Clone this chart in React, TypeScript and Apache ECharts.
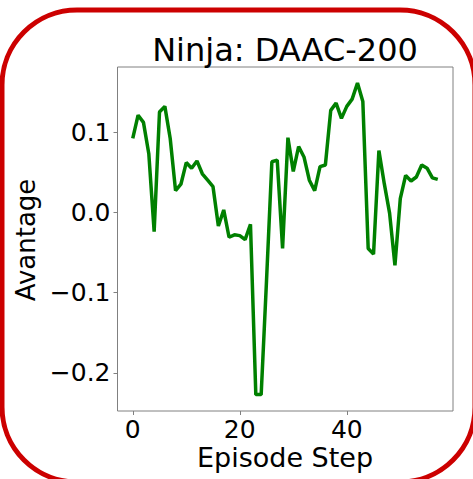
import React, { useEffect, useRef } from "react";
import * as echarts from "echarts";

const steps: number[] = Array.from({ length: 58 }, (_, i) => i);
const advantage: number[] = [
  0.092, 0.121, 0.112, 0.073, -0.024, 0.125, 0.132, 0.092, 0.027, 0.035,
  0.062, 0.055, 0.064, 0.048, 0.040, 0.032, -0.017, 0.003, -0.031, -0.028,
  -0.029, -0.034, -0.015, -0.227, -0.227, -0.085, 0.063, 0.065, -0.045, 0.093,
  0.051, 0.082, 0.069, 0.040, 0.027, 0.057, 0.059, 0.127, 0.136, 0.117,
  0.132, 0.141, 0.161, 0.138, -0.045, -0.052, 0.077, 0.036, -0.001, -0.066,
  0.017, 0.046, 0.039, 0.044, 0.059, 0.055, 0.043, 0.041,
];
const xTicks: number[] = [0, 20, 40];
const yTicks: number[] = [-0.2, -0.1, 0.0, 0.1];
const titleText = "Ninja: DAAC-200";
const xName = "Episode Step";
const yName = "Avantage";

const FONT = "DejaVu Sans";

export default function App() {
  const ref = useRef<HTMLDivElement>(null);
  useEffect(() => {
    if (!ref.current) return;
    const chart = echarts.init(ref.current, null, { renderer: "svg" });
    const fmt = (v: number) =>
      v < -1e-9 ? "\u2212" + Math.abs(v).toFixed(1) : Math.abs(v).toFixed(1);
    chart.setOption({
      animation: false,
      backgroundColor: "#ffffff",
      grid: {
        left: 117.5,
        right: 20,
        top: 67,
        bottom: 68,
        show: true,
        borderColor: "#808080",
        borderWidth: 1,
        backgroundColor: "transparent",
      },
      xAxis: {
        type: "value",
        position: "bottom",
        min: -2.85,
        max: 59.85,
        axisLine: { show: false, onZero: false },
        splitLine: { show: false },
        axisTick: {
          show: true,
          inside: false,
          length: 4,
          customValues: xTicks,
          lineStyle: { color: "#808080" },
        },
        axisLabel: {
          customValues: xTicks,
          margin: 6,
          fontFamily: FONT,
          fontSize: 25,
          color: "#000000",
          formatter: (v: number) => String(Math.round(v)),
        },
      },
      yAxis: {
        type: "value",
        position: "left",
        min: -0.2474,
        max: 0.181,
        axisLine: { show: false, onZero: false },
        splitLine: { show: false },
        axisTick: {
          show: true,
          inside: false,
          length: 4,
          customValues: yTicks,
          lineStyle: { color: "#808080" },
        },
        axisLabel: {
          customValues: yTicks,
          margin: 7,
          fontFamily: FONT,
          fontSize: 25,
          color: "#000000",
          formatter: fmt,
        },
      },
      series: [
        {
          type: "line",
          data: steps.map((s, i) => [s, advantage[i]]),
          showSymbol: false,
          symbol: "none",
          lineStyle: { color: "#008000", width: 3.5 },
          itemStyle: { color: "#008000" },
        },
      ],
      graphic: [
        {
          type: "rect",
          shape: { x: 2, y: 10, width: 473, height: 472, r: 75 },
          style: { fill: "none", stroke: "#cc0000", lineWidth: 5 },
          silent: true,
        },
        {
          type: "text",
          x: 285,
          y: 49.5,
          style: {
            text: titleText,
            fontFamily: FONT,
            fontSize: 32,
            fill: "#000000",
            textAlign: "center",
            textVerticalAlign: "middle",
          },
        },
        {
          type: "text",
          x: 285,
          y: 457,
          style: {
            text: xName,
            fontFamily: FONT,
            fontSize: 27,
            fill: "#000000",
            textAlign: "center",
            textVerticalAlign: "middle",
          },
        },
        {
          type: "text",
          x: 26,
          y: 240,
          rotation: Math.PI / 2,
          style: {
            text: yName,
            fontFamily: FONT,
            fontSize: 26,
            fill: "#000000",
            textAlign: "center",
            textVerticalAlign: "middle",
          },
        },
      ],
    });
    return () => chart.dispose();
  }, []);
  return <div ref={ref} style={{ width: 473, height: 479, position: "fixed", left: 0, top: 0 }} />;
}
